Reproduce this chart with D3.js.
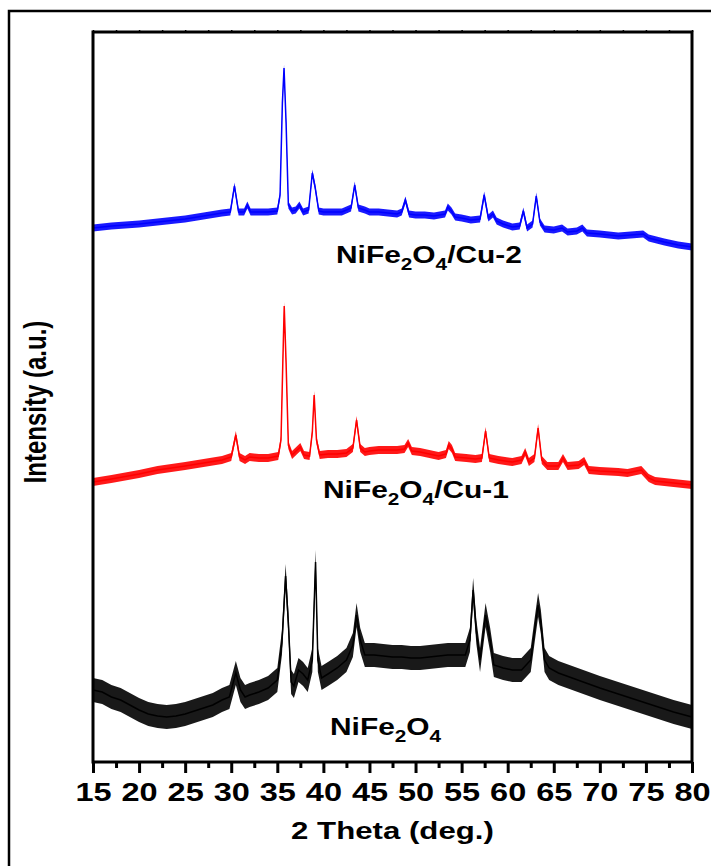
<!DOCTYPE html>
<html lang="en">
<head>
    <meta charset="UTF-8">
    <title>XRD NiFe2O4</title>
    <script src="https://cdnjs.cloudflare.com/ajax/libs/d3/7.8.5/d3.min.js"></script>
    <style>
        body { margin: 0; background: #fff; }
        text { font-family: "Liberation Sans", Arial, sans-serif; font-weight: bold; fill: #000; }
    </style>
</head>
<body>
    <div id="wrapper"></div>
    <script>
        // 2 theta (deg.) and intensity (a.u.), one pair of arrays per sample
        const cu2Theta = [15, 17, 20, 22, 25, 27, 29, 29.9, 30.35, 30.8, 31.4, 31.75, 32.1, 33, 34, 35, 35.3, 35.55, 35.73, 35.95, 36.2, 36.6, 37, 37.4, 37.8, 38.4, 38.8, 39.1, 39.5, 40, 41, 42, 43, 43.4, 43.8, 44.5, 45, 46, 47, 48, 48.5, 48.9, 49.3, 50, 51, 52, 53.2, 53.5, 53.9, 54.3, 55, 56, 57, 57.45, 57.9, 58.4, 58.8, 59.5, 60.5, 61.3, 61.7, 62.1, 62.7, 63.1, 63.5, 64, 65, 65.9, 66.5, 67.5, 68.1, 68.6, 70, 72, 74.7, 75.3, 77, 78.5, 80]
        const cu2Counts = [530, 532, 534, 536, 539, 542, 545, 546, 572, 546, 546, 553, 546, 546, 546, 547, 563, 655, 690, 636, 553, 547, 548, 553, 546, 548, 585, 571, 547, 546, 546, 546, 550, 573, 550, 548, 546, 546, 545, 544, 546, 558, 544, 543, 543, 542, 544, 551, 547, 541, 540, 538, 539, 563, 540, 544, 537, 534, 531, 532, 547, 530, 534, 562, 536, 529, 528, 530, 526, 527, 530, 525, 524, 522, 524, 520, 516, 513, 511]

        const cu1Theta = [15, 17, 20, 22, 25, 27, 29, 30, 30.5, 30.9, 31.5, 32, 33, 34, 35.1, 35.4, 35.6, 35.75, 35.95, 36.2, 36.6, 37.5, 37.9, 38.5, 38.8, 39, 39.25, 39.6, 40.5, 41.5, 42.5, 43.2, 43.6, 44, 44.5, 45, 46, 47, 48, 48.8, 49.2, 49.6, 50.5, 51.5, 52.5, 53.3, 53.6, 53.95, 54.3, 55.5, 56.5, 57.2, 57.6, 58, 59, 60.5, 61.5, 61.9, 62.3, 62.9, 63.3, 63.7, 64.3, 65.5, 66, 66.5, 67.7, 68.3, 68.8, 70, 72, 73, 74.5, 75.3, 76, 78, 80]
        const cu1Counts = [276, 279, 284, 288, 292, 295, 298, 301, 323, 301, 298, 301, 300, 300, 302, 318, 396, 452, 396, 313, 303, 311, 303, 302, 326, 363, 318, 303, 304, 304, 305, 310, 338, 310, 306, 307, 308, 308, 308, 309, 315, 307, 306, 304, 302, 304, 313, 309, 301, 300, 299, 300, 327, 300, 298, 296, 298, 306, 296, 300, 330, 298, 292, 292, 300, 292, 293, 297, 288, 287, 286, 285, 288, 280, 277, 275, 273]

        const nfoTheta = [15, 16, 17, 18, 19, 20, 21, 22, 23, 24, 25, 26, 27, 28, 29, 29.8, 30.5, 31, 31.5, 32, 33, 34, 35, 35.5, 35.9, 36.2, 36.5, 36.8, 37.3, 37.8, 38.3, 38.8, 39.15, 39.4, 39.8, 40.5, 41.5, 42.5, 43.2, 43.6, 44, 44.5, 45.5, 46.5, 47.5, 48.5, 49.5, 50.5, 51.5, 52.5, 53.5, 54.5, 55.4, 55.9, 56.25, 56.6, 57, 57.6, 58.1, 58.5, 59.5, 60.5, 61.5, 62.5, 62.9, 63.3, 63.6, 64, 64.5, 65.5, 67, 68.5, 70, 72, 74, 76, 78, 80]
        const nfoCounts = [68, 66, 61, 58, 53, 48, 44, 42, 41, 42, 44, 47, 50, 53, 58, 61, 85, 68, 61, 63, 66, 70, 78, 115, 182, 135, 76, 72, 88, 84, 78, 98, 196, 98, 80, 84, 90, 98, 113, 143, 118, 103, 103, 102, 101, 101, 100, 100, 101, 102, 103, 103, 103, 118, 168, 126, 98, 143, 118, 93, 90, 88, 88, 98, 126, 153, 136, 98, 90, 85, 80, 75, 70, 64, 58, 52, 46, 41]

        // half width of the noise band of each trace, same units as the counts
        const noiseBand = [3.5, 4, 12]
        // "_" marks the digit that follows as a subscript
        const sampleNames = ['NiFe_2O_4/Cu-2', 'NiFe_2O_4/Cu-1', 'NiFe_2O_4']
        const xTicks = [15, 20, 25, 30, 35, 40, 45, 50, 55, 60, 65, 70, 75, 80]

        const dimensions = {
            width: 711,
            height: 866,
            margin: { top: 32, right: 19, bottom: 104, left: 93 },
        }
        dimensions.boundedWidth = dimensions.width - dimensions.margin.left - dimensions.margin.right
        dimensions.boundedHeight = dimensions.height - dimensions.margin.top - dimensions.margin.bottom

        const stretch = 1.3   // text in the figure is widened horizontally

        const svg = d3.select('#wrapper')
            .append('svg')
                .attr('width', dimensions.width)
                .attr('height', dimensions.height)

        // outer frame, cut by the right and bottom edges of the picture
        svg.append('rect')
            .attr('x', 9)
            .attr('y', 11)
            .attr('width', 800)
            .attr('height', 900)
            .attr('fill', 'none')
            .attr('stroke', '#000')
            .attr('stroke-width', 2.5)

        const bounds = svg.append('g')
            .attr('transform', `translate(${dimensions.margin.left},${dimensions.margin.top})`)

        const xScale = d3.scaleLinear()
            .domain([15, 80])
            .range([0, dimensions.boundedWidth])

        const yScale = d3.scaleLinear()
            .domain([-4, 726])
            .range([dimensions.boundedHeight, 0])

        const series = [
            { theta: cu2Theta, counts: cu2Counts, color: '#0000ff', band: noiseBand[0] },
            { theta: cu1Theta, counts: cu1Counts, color: '#ff0000', band: noiseBand[1] },
            { theta: nfoTheta, counts: nfoCounts, color: '#000000', band: noiseBand[2] },
        ]

        series.slice().reverse().forEach(s => {
            const pts = s.theta.map((t, i) => [t, s.counts[i]])
            const area = d3.area()
                .x(d => xScale(d[0]))
                .y0(d => yScale(d[1] - s.band))
                .y1(d => yScale(d[1] + s.band))
            const line = d3.line()
                .x(d => xScale(d[0]))
                .y(d => yScale(d[1]))
            bounds.append('path')
                .attr('d', area(pts))
                .attr('fill', s.color)
                .attr('fill-opacity', 0.9)
            bounds.append('path')
                .attr('d', line(pts))
                .attr('fill', 'none')
                .attr('stroke', s.color)
                .attr('stroke-width', 1.5)
        })

        // axes
        const minorTicks = xTicks.slice(0, -1).map(t => t + 2.5)

        const xAxis = bounds.append('g')
            .attr('transform', `translate(0,${dimensions.boundedHeight})`)
            .call(d3.axisBottom(xScale).tickValues(xTicks).tickSize(11).tickPadding(10).tickFormat(d3.format('d')))
        xAxis.select('.domain').remove()
        xAxis.selectAll('line').attr('stroke-width', 3)
        xAxis.selectAll('text')
            .attr('font-size', 25)
            .attr('transform', `scale(${stretch},1)`)

        const xMinor = bounds.append('g')
            .attr('transform', `translate(0,${dimensions.boundedHeight})`)
            .call(d3.axisBottom(xScale).tickValues(minorTicks).tickSize(6).tickFormat(''))
        xMinor.select('.domain').remove()
        xMinor.selectAll('line').attr('stroke-width', 3)

        const xTop = bounds.append('g')
            .call(d3.axisTop(xScale).tickValues(xTicks.concat(minorTicks)).tickSize(2).tickFormat(''))
        xTop.select('.domain').remove()
        xTop.selectAll('line').attr('stroke-width', 1.5)

        bounds.append('rect')
            .attr('width', dimensions.boundedWidth)
            .attr('height', dimensions.boundedHeight)
            .attr('fill', 'none')
            .attr('stroke', '#000')
            .attr('stroke-width', 3)

        // axis titles
        svg.append('text')
            .attr('transform', `translate(${dimensions.margin.left + dimensions.boundedWidth / 2},839) scale(${stretch},1)`)
            .attr('text-anchor', 'middle')
            .attr('font-size', 24)
            .text('2 Theta (deg.)')

        svg.append('text')
            .attr('transform', `translate(46,402) rotate(-90) scale(1,${stretch})`)
            .attr('text-anchor', 'middle')
            .attr('font-size', 24)
            .text('Intensity (a.u.)')

        // sample labels with subscripts
        const labelSpots = [[336, 263], [323, 498], [330, 735]]
        sampleNames.forEach((name, i) => {
            const t = svg.append('text')
                .attr('transform', `translate(${labelSpots[i][0]},${labelSpots[i][1]}) scale(${stretch},1)`)
                .attr('font-size', 23)
            let shifted = false
            name.split(/_(\d)/).forEach((part, k) => {
                if (part === '') return
                const isSub = k % 2 === 1
                t.append('tspan')
                    .attr('font-size', isSub ? 16 : 23)
                    .attr('dy', isSub ? 7 : (shifted ? -7 : 0))
                    .text(part)
                shifted = isSub
            })
        })
    </script>
</body>
</html>
